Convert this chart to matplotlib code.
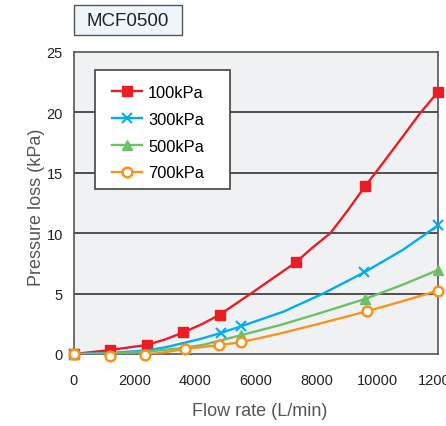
import numpy as np
import matplotlib
matplotlib.use("Agg")
import matplotlib.pyplot as plt
from matplotlib.patches import Rectangle

plt.rcParams['font.family'] = ['Liberation Sans', 'DejaVu Sans']

labels = ['100kPa', '300kPa', '500kPa', '700kPa']
colors = ['#ec1c24', '#00aeef', '#6dc067', '#f7941d']
markers = ['s', 'x', '^', 'o']

# marker positions
mk_x = [
    [0, 1200, 2400, 3600, 4800, 7320, 9600, 12000],
    [0, 4835, 5500, 9570, 12000],
    [0, 5500, 9590, 12000],
    [0, 1200, 2350, 3650, 4790, 5500, 9650, 12000],
]
mk_y = [
    [0, 0.36, 0.75, 1.78, 3.25, 7.6, 13.9, 21.7],
    [0, 1.74, 2.29, 6.76, 10.65],
    [0, 1.55, 4.55, 6.95],
    [0, -0.13, -0.05, 0.41, 0.74, 0.97, 3.53, 5.24],
]
# extra readings along the smooth curves
cv_x = [
    [0, 1200, 2400, 3000, 3600, 4200, 4800, 5860, 7320, 7835, 8450, 9000,
     9600, 10000, 10810, 11400, 12000],
    [0, 1200, 2400, 3000, 3600, 4200, 4835, 5500, 6900, 8210, 9570, 10860, 12000],
    [0, 1200, 2400, 3600, 4300, 5500, 6800, 8000, 9590, 10800, 12000],
    [0, 1200, 2350, 3000, 3650, 4790, 5500, 6800, 8000, 9650, 10800, 12000],
]
cv_y = [
    [0, 0.33, 0.75, 1.2, 1.78, 2.45, 3.25, 5.05, 7.6, 8.75, 10.0, 11.8,
     13.9, 15.2, 17.9, 19.9, 21.7],
    [0, 0.08, 0.3, 0.55, 0.9, 1.27, 1.74, 2.29, 3.5, 5.0, 6.76, 8.65, 10.65],
    [0, 0.04, 0.2, 0.5, 0.78, 1.55, 2.4, 3.3, 4.55, 5.7, 6.95],
    [0, -0.12, -0.05, 0.15, 0.41, 0.74, 0.97, 1.7, 2.45, 3.53, 4.35, 5.24],
]

W, H = 446, 427
fig = plt.figure(figsize=(W / 100, H / 100), dpi=100)
ax = fig.add_axes([74 / W, 1 - 355 / H, 364 / W, 302 / H])
ax.set_facecolor('#f0f1f3')

def mstyle(i):
    kw = dict(marker=markers[i])
    if markers[i] == 'o':
        kw.update(mfc='white', mec=colors[i], mew=1.8, ms=7)
    elif markers[i] == 'x':
        kw.update(mew=1.5, ms=7)
    elif markers[i] == '^':
        kw.update(ms=7.5)
    else:
        kw.update(ms=6.5)
    return kw

for i in range(4):
    ax.plot(cv_x[i], cv_y[i], color=colors[i], lw=1.7, zorder=3 + i,
            solid_joinstyle='round')
    ax.plot(mk_x[i], mk_y[i], color=colors[i], lw=0, zorder=3 + i,
            clip_on=False, **mstyle(i))

ax.set_xlim(0, 12000)
ax.set_ylim(0, 25)
ax.set_xticks([0, 2000, 4000, 6000, 8000, 10000, 12000])
ax.set_yticks([0, 5, 10, 15, 20, 25])
for y in [5, 10, 15, 20]:
    ax.axhline(y, color='#333333', lw=1.2, zorder=1)
ax.tick_params(length=0, labelsize=10.5, colors='#222222')
ax.tick_params(axis='x', pad=14)
ax.tick_params(axis='y', pad=8)
for s in ax.spines.values():
    s.set_color('#555555')
    s.set_linewidth(1.2)
ax.set_xlabel('Flow rate (L/min)', fontsize=13, color='#555555')
ax.set_ylabel('Pressure loss (kPa)', fontsize=13, color='#555555')
ax.xaxis.set_label_coords(0.511, -0.159)
ax.yaxis.set_label_coords(-0.08, 0.488)

# legend box
ax.add_patch(Rectangle(((95 - 74) / 364, (355 - 190) / 302), 135 / 364, 119 / 302,
                       transform=ax.transAxes, fc='white', ec='#444444', lw=1.2,
                       zorder=9))
handles = []
for i in range(4):
    h, = ax.plot([], [], color=colors[i], lw=1.7, **mstyle(i))
    handles.append(h)
leg = ax.legend(handles, labels, loc='upper left',
                bbox_to_anchor=((112 - 74) / 364, (355 - 86) / 302),
                fontsize=11.8, frameon=False, handlelength=1.8,
                borderpad=0, labelspacing=0.72, handletextpad=0.4,
                borderaxespad=0)
leg.set_zorder(10)

# model tag
fig.patches.append(Rectangle((74 / W, 1 - 36 / H), 108 / W, 30 / H,
                             transform=fig.transFigure, fc='#eef6fc',
                             ec='#555555', lw=1))
fig.text(128 / W, 1 - 21 / H, 'MCF0500', ha='center', va='center',
         fontsize=13.5, color='#222222')

fig.savefig('out.png', dpi=100)
